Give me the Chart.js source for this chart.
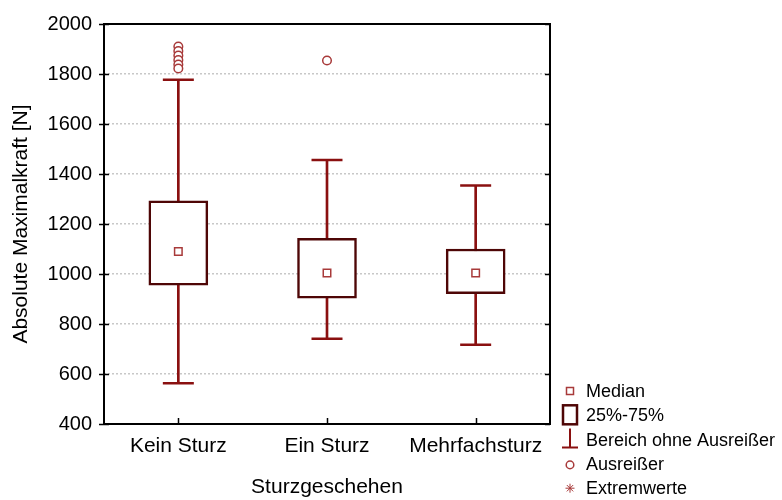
<!DOCTYPE html>
<html>
<head>
<meta charset="utf-8">
<script src="https://cdn.jsdelivr.net/npm/chart.js@4/dist/chart.umd.min.js"></script>
<style>
html,body{margin:0;padding:0;background:#fff;}
#wrap{width:782px;height:500px;}
</style>
</head>
<body>
<div id="wrap"><canvas id="c" width="782" height="500"></canvas></div>
<script>
// ---- data ----
const categories = ['Kein Sturz', 'Ein Sturz', 'Mehrfachsturz'];
const whiskerLow = [563, 741, 717];
const quartile1 = [955, 903, 921];
const medians = [1090, 1004, 1004];
const quartile3 = [1293, 1143, 1100];
const whiskerHigh = [1777, 1456, 1354];
const outliers = [[1910, 1892, 1874, 1856, 1838, 1822], [1854], []];
const yMin = 400, yMax = 2000, yStep = 200;
const legendLabels = ['Median', '25%-75%', 'Bereich ohne Ausreißer', 'Ausreißer', 'Extremwerte'];
const xTitle = 'Sturzgeschehen';
const yTitle = 'Absolute Maximalkraft [N]';

// ---- styles ----
const FONT = "Arial, 'Liberation Sans', sans-serif";
const boxColor = '#4e0606';
const whiskerColor = '#8a1010';
const markerColor = '#a83a3a';

const whiskerData = categories.map((c, i) => [whiskerLow[i], whiskerHigh[i]]);
const boxData = categories.map((c, i) => [quartile1[i], quartile3[i]]);
const capData = [];
categories.forEach((c, i) => { capData.push({x: c, y: whiskerLow[i]}); capData.push({x: c, y: whiskerHigh[i]}); });
const medianData = categories.map((c, i) => ({x: c, y: medians[i]}));
const outlierData = [];
categories.forEach((c, i) => outliers[i].forEach(v => outlierData.push({x: c, y: v})));

const frameTicks = {
  id: 'frameTicks',
  afterDraw(chart) {
    const ctx = chart.ctx, a = chart.chartArea;
    const ys = chart.scales.y, xs = chart.scales.x;
    ctx.save();
    ctx.strokeStyle = '#000';
    ctx.lineWidth = 2;
    ctx.strokeRect(a.left, a.top, a.right - a.left, a.bottom - a.top);
    ctx.lineWidth = 1.5;
    ctx.beginPath();
    ys.ticks.forEach(t => {
      const y = Math.round(ys.getPixelForValue(t.value)) + 0.5;
      ctx.moveTo(a.left - 5, y); ctx.lineTo(a.left + 5, y);
      ctx.moveTo(a.right - 5, y); ctx.lineTo(a.right, y);
    });
    categories.forEach((c, i) => {
      const x = Math.round(xs.getPixelForTick(i)) + 0.5;
      ctx.moveTo(x, a.bottom); ctx.lineTo(x, a.bottom - 6);
    });
    ctx.stroke();
    ctx.restore();
  }
};

const legendPlugin = {
  id: 'customLegend',
  afterDraw(chart) {
    const ctx = chart.ctx;
    const ix = 570, tx = 586, y0 = 391, dy = 24.3;
    ctx.save();
    ctx.font = '18px ' + FONT;
    ctx.fillStyle = '#000';
    ctx.textBaseline = 'middle';
    ctx.textAlign = 'left';
    legendLabels.forEach((lab, i) => {
      const y = y0 + i * dy;
      ctx.fillText(lab, tx, y + 1);
      ctx.save();
      if (i === 0) {
        ctx.strokeStyle = markerColor; ctx.lineWidth = 1.5;
        ctx.strokeRect(ix - 3.5, y - 3.5, 7, 7);
      } else if (i === 1) {
        ctx.strokeStyle = boxColor; ctx.lineWidth = 2.5;
        ctx.strokeRect(ix - 7, y - 10, 14, 19);
      } else if (i === 2) {
        ctx.strokeStyle = whiskerColor; ctx.lineWidth = 2;
        ctx.beginPath();
        ctx.moveTo(ix, y - 11); ctx.lineTo(ix, y + 8);
        ctx.moveTo(ix - 8, y + 8); ctx.lineTo(ix + 8, y + 8);
        ctx.stroke();
      } else if (i === 3) {
        ctx.strokeStyle = markerColor; ctx.lineWidth = 1.5;
        ctx.beginPath(); ctx.arc(ix, y + 1, 3.8, 0, Math.PI * 2); ctx.stroke();
      } else {
        ctx.strokeStyle = markerColor; ctx.lineWidth = 1;
        ctx.beginPath();
        for (let k = 0; k < 4; k++) {
          const ang = k * Math.PI / 4;
          ctx.moveTo(ix - 4.5 * Math.cos(ang), y - 4.5 * Math.sin(ang));
          ctx.lineTo(ix + 4.5 * Math.cos(ang), y + 4.5 * Math.sin(ang));
        }
        ctx.stroke();
      }
      ctx.restore();
    });
    ctx.restore();
  }
};

new Chart(document.getElementById('c'), {
  type: 'bar',
  data: {
    labels: categories,
    datasets: [
      { type: 'bar', data: whiskerData, backgroundColor: whiskerColor, borderWidth: 0,
        barThickness: 2, grouped: false, order: 4 },
      { type: 'bar', data: boxData, backgroundColor: '#ffffff', borderColor: boxColor,
        borderWidth: 2.5, borderSkipped: false, barThickness: 59, grouped: false, order: 3 },
      { type: 'line', data: capData, showLine: false, pointStyle: 'line', pointRadius: 15.5,
        pointBorderWidth: 2.5, pointBorderColor: whiskerColor, order: 2 },
      { type: 'line', data: medianData, showLine: false, pointStyle: 'rect', pointRadius: 5.3,
        pointBorderWidth: 1.5, pointBorderColor: markerColor, pointBackgroundColor: '#fff', order: 1 },
      { type: 'line', data: outlierData, showLine: false, pointStyle: 'circle', pointRadius: 4.3,
        pointBorderWidth: 1.5, pointBorderColor: markerColor, pointBackgroundColor: '#fff', order: 0 }
    ]
  },
  options: {
    responsive: false,
    animation: false,
    devicePixelRatio: 1,
    events: [],
    layout: { padding: { top: 21, right: 232, left: 0, bottom: 0 } },
    plugins: { legend: { display: false }, tooltip: { enabled: false } },
    scales: {
      x: {
        type: 'category',
        offset: true,
        grid: { display: false, drawTicks: false },
        border: { display: false },
        ticks: { font: { size: 21, family: FONT }, color: '#000', padding: 10 },
        title: { display: true, text: xTitle, font: { size: 21, family: FONT }, color: '#000',
          padding: { top: 0, bottom: 0 } },
        afterFit(s) { s.height = 76; }
      },
      y: {
        min: yMin, max: yMax,
        grid: { color: '#c8c8c8', lineWidth: 1.5, drawTicks: false },
        border: { display: false, dash: [2, 2] },
        ticks: { stepSize: yStep, font: { size: 20, family: FONT }, color: '#000', padding: 12,
          callback: v => String(v) },
        title: { display: true, text: yTitle, font: { size: 21, family: FONT }, color: '#000',
          padding: { top: 9, bottom: 0 } },
        afterFit(s) { s.width = 104; }
      }
    }
  },
  plugins: [frameTicks, legendPlugin]
});
</script>
</body>
</html>
